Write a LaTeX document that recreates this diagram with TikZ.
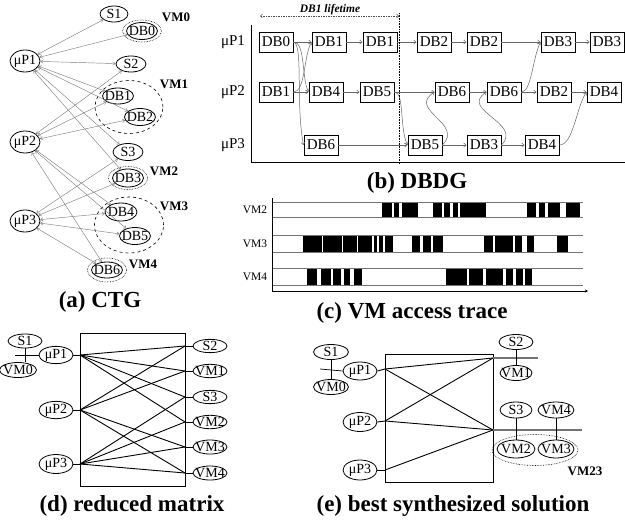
\documentclass[tikz,border=0pt]{standalone}
\usepackage{fontspec}
\setmainfont{Liberation Serif}
\usetikzlibrary{shapes.geometric,arrows.meta}
% zero-width text so the ellipse keeps its given size
\newcommand\zw[1]{\makebox[0pt]{#1}}
\begin{document}
\begin{tikzpicture}[x=1pt,y=-1pt,
  ov/.style={ellipse,draw,line width=0.8pt,inner sep=0pt,minimum width=31pt,minimum height=17pt,font=\fontsize{14}{14}\selectfont},
  ring/.style={ellipse,draw,densely dotted,line width=0.6pt,inner sep=0pt},
  vmlab/.style={font=\fontsize{13}{13}\selectfont\bfseries,inner sep=0pt},
  cedge/.style={draw=black!50,line width=0.45pt,{Straight Barb[length=2.5pt,width=3.5pt]}-{Straight Barb[length=2.5pt,width=3.5pt]}},
  dbbox/.style={rectangle,draw,line width=0.9pt,minimum width=34pt,minimum height=20pt,inner sep=1pt,font=\fontsize{15}{15}\selectfont},
  dep/.style={draw=black!60,line width=0.5pt,-{Straight Barb[length=2.5pt,width=4pt]}},
  rowlab/.style={font=\fontsize{15}{15}\selectfont,inner sep=0pt},
  tracelab/.style={font=\fontsize{11.5}{11.5}\selectfont,inner sep=0pt},
  captext/.style={font=\fontsize{23}{23}\selectfont\bfseries,inner sep=0pt},
  mline/.style={line width=0.9pt},
  bus/.style={draw=black!55,line width=1.4pt},
]
\useasboundingbox (0,0) rectangle (625,520);

% ---------------- (a) CTG ----------------
\node[ov,minimum width=30pt,minimum height=22pt] (p1) at (25,61) {\zw{μP1}};
\node[ov,minimum width=30pt,minimum height=22pt] (p2) at (25,142) {\zw{μP2}};
\node[ov,minimum width=30pt,minimum height=22pt] (p3) at (25,221) {\zw{μP3}};

\node[ov,minimum width=28pt,minimum height=16pt] (s1) at (114,14) {\zw{S1}};
\node[ov,minimum width=31pt,minimum height=17pt] (db0) at (142,31) {\zw{DB0}};
\node[ring,minimum width=39pt,minimum height=22pt] (r0) at (142,31) {};
\node[vmlab] (l0) at (176,17) {VM0};

\node[ov,minimum width=30pt,minimum height=16pt] (s2) at (131,64) {\zw{S2}};
\node[ov,minimum width=31pt,minimum height=16pt] (db1) at (118,96) {\zw{DB1}};
\node[ov,minimum width=31pt,minimum height=17pt] (db2) at (140,117) {\zw{DB2}};
\node[ring,dashed,minimum width=68pt,minimum height=53pt] (r1) at (129,107) {};
\node[vmlab] (l1) at (174,84) {VM1};

\node[ov,minimum width=30pt,minimum height=17pt] (s3) at (128,152) {\zw{S3}};
\node[ov,minimum width=31pt,minimum height=18pt] (db3) at (128,178) {\zw{DB3}};
\node[ring,minimum width=39pt,minimum height=23pt] (r2) at (128,178) {};
\node[vmlab] (l2) at (164,171) {VM2};

\node[ov,minimum width=32pt,minimum height=18pt] (db4) at (121,212) {\zw{DB4}};
\node[ov,minimum width=31pt,minimum height=17pt] (db5) at (135,236) {\zw{DB5}};
\node[ring,dashed,minimum width=69pt,minimum height=56pt] (r3) at (129,225) {};
\node[vmlab] (l3) at (174,206) {VM3};

\node[ov,minimum width=31pt,minimum height=16pt] (db6) at (107,270) {\zw{DB6}};
\node[ring,minimum width=39pt,minimum height=24pt] (r4) at (107,270) {};
\node[vmlab] (l4) at (143,264) {VM4};

\foreach \s/\t in {p1/s1,p1/db0,p1/s2,p1/db1,p1/db2,p1/s3,p1/db3,
                   p2/s2,p2/db1,p2/db2,p2/db4,p2/db5,p2/db6,
                   p3/s3,p3/db3,p3/db4,p3/db5,p3/db6}
  \draw[cedge] (\s) -- (\t);

\node[captext] (capa) at (100,302) {(a) CTG};

% ---------------- (b) DBDG ----------------
\node[rowlab] (m1) at (233,42) {μP1};
\node[rowlab] (m2) at (233,92) {μP2};
\node[rowlab] (m3) at (233,145) {μP3};

\coordinate (ax0) at (251,25);
\coordinate (ax1) at (251,162);
\coordinate (ax2) at (625,162);
\draw[line width=0.8pt] (ax0) -- (ax1) -- (ax2);

\node[dbbox] (a0) at (276,42) {DB0};
\node[dbbox] (a1) at (329,42) {DB1};
\node[dbbox] (a2) at (380,42) {DB1};
\node[dbbox] (a3) at (434,42) {DB2};
\node[dbbox] (a4) at (484,42) {DB2};
\node[dbbox] (a5) at (558,42) {DB3};
\node[dbbox] (a6) at (607,42) {DB3};

\node[dbbox] (b0) at (276,92) {DB1};
\node[dbbox] (b1) at (326,92) {DB4};
\node[dbbox] (b2) at (377,92) {DB5};
\node[dbbox] (b3) at (452,92) {DB6};
\node[dbbox] (b4) at (504,92) {DB6};
\node[dbbox] (b5) at (554,92) {DB2};
\node[dbbox] (b6) at (604,92) {DB4};

\node[dbbox] (c0) at (321,145) {DB6};
\node[dbbox] (c1) at (425,145) {DB5};
\node[dbbox] (c2) at (484,145) {DB3};
\node[dbbox] (c3) at (542,145) {DB4};

\foreach \s/\t in {a0/a1,a1/a2,a2/a3,a3/a4,a4/a5,a5/a6,
                   b0/b1,b1/b2,b2/b3,b3/b4,b4/b5,b5/b6,
                   c0/c1,c1/c2,c2/c3}
  \draw[dep] (\s) -- (\t);

\draw[dep] (a0.east) .. controls +(12,0) and +(-7,-14) .. (b1.west);
\draw[dep] (a0.east) .. controls +(10,2) and +(-8,-40) .. (c0.west);
\draw[dep] (b0.east) .. controls +(12,0) and +(-8,14) .. (a1.west);
\draw[dep] (b2.east) .. controls +(10,0) and +(-8,-16) .. (c1.west);
\draw[dep] (c1.east) .. controls +(22,-22) and +(-28,18) .. (b3.west);
\draw[dep] (c2.east) .. controls +(22,-22) and +(-28,18) .. (b4.west);
\draw[dep] (b4.east) .. controls +(10,0) and +(-8,16) .. (a5.west);
\draw[dep] (c3.east) .. controls +(14,0) and +(-10,14) .. (b6.west);

% lifetime of DB1
\coordinate (lt0) at (260,16);
\coordinate (lt1) at (399,16);
\draw[black!70,line width=0.5pt,dash pattern=on 1.5pt off 1pt,
      {Straight Barb[length=2pt,width=3.5pt]}-{Straight Barb[length=2pt,width=3.5pt]}] (lt0) -- (lt1);
\node[font=\fontsize{11.5}{11.5}\selectfont\bfseries\itshape,inner sep=0pt] (ltl) at (330,10) {DB1 lifetime};
\coordinate (dl0) at (399,13);
\coordinate (dl1) at (399,164);
\draw[line width=0.6pt,densely dotted] (dl0) -- (dl1);

\node[captext] (capb) at (417,183) {(b) DBDG};

% ---------------- (c) VM access trace ----------------
\coordinate (tx0) at (272,198);
\coordinate (tx1) at (272,291);
\coordinate (tx2) at (588,291);
\draw[line width=0.6pt,-{Stealth[length=3pt,width=3pt]}] (tx0) -- (tx1) -- (tx2);

\foreach \y in {202,217,235,252,268,285}
  \draw[black!55,line width=0.9pt] (273,\y) -- (583,\y);

\node[tracelab] (t2) at (255,209.5) {VM2};
\node[tracelab] (t3) at (255,243.5) {VM3};
\node[tracelab] (t4) at (255,276.5) {VM4};

\foreach \a/\b in {381.7/391.7,394/399.3,401.7/418.3,433.3/441.7,444/450,452.7/458.3,
                   460/486,527.3/536,539.3/545,548.3/560,566/580}
  \fill (\a,202.5) rectangle (\b,216.5);
\foreach \a/\b in {302.7/321.7,323.3/341.7,343.3/356.7,358.3/371.7,374/377.3,379.3/382.7,
                   385/392.7,411.7/420,422.7/430.7,433.3/443.3,484/493.3,495/512.7,
                   515/521.7,526.7/534,556.7/568.3}
  \fill (\a,235.5) rectangle (\b,251.5);
\foreach \a/\b in {306.7/317.3,320.7/330.7,333.3/340.7,344/350,354/361.7,446/466.7,
                   469.3/483.3,486/503.3,506/512.7,516/522.7,525/531.7}
  \fill (\a,268.5) rectangle (\b,284.5);

\node[captext] (capc) at (412,313) {(c) VM access trace};

% ---------------- (d) reduced matrix ----------------
\node[ov,minimum width=34pt,minimum height=14pt] (ds1) at (25,341) {\zw{S1}};
\node[ov,minimum width=37pt,minimum height=15pt] (dv0) at (18,370) {\zw{VM0}};
\node[ov,minimum width=34pt,minimum height=17pt] (dp1) at (56,355) {\zw{μP1}};
\node[ov,minimum width=34pt,minimum height=17pt] (dp2) at (56,410) {\zw{μP2}};
\node[ov,minimum width=34pt,minimum height=19pt] (dp3) at (56,464) {\zw{μP3}};
\coordinate (dbus) at (15,355);
\draw[line width=0.7pt] (dbus) -- (dp1.west);
\draw[line width=0.7pt] (ds1.south) -- (ds1.south |- dv0.north);

\draw[mline] (80,333) rectangle (185,486);

\node[ov,minimum width=34pt,minimum height=13pt] (dr1) at (210,346) {\zw{S2}};
\node[ov,minimum width=34pt,minimum height=13pt] (dr2) at (210,371) {\zw{VM1}};
\node[ov,minimum width=34pt,minimum height=13pt] (dr3) at (210,397) {\zw{S3}};
\node[ov,minimum width=34pt,minimum height=13pt] (dr4) at (210,422) {\zw{VM2}};
\node[ov,minimum width=34pt,minimum height=14pt] (dr5) at (210,447) {\zw{VM3}};
\node[ov,minimum width=34pt,minimum height=14pt] (dr6) at (210,473) {\zw{VM4}};

\foreach \i/\y in {1/355,2/410,3/464} {
  \coordinate (dl\i) at (80,\y);
  \draw[mline] (dp\i.east) -- (dl\i);
}
\foreach \i/\y in {1/346,2/371,3/397,4/422,5/447,6/473} {
  \coordinate (dq\i) at (185,\y);
  \draw[mline] (dq\i) -- (dr\i.west);
}
\foreach \s/\t in {1/1,1/2,1/3,1/4,2/1,2/2,2/5,2/6,3/3,3/4,3/5,3/6}
  \draw[mline] (dl\s) -- (dq\t);

\node[captext] (capd) at (132,506) {(d) reduced matrix};

% ---------------- (e) best synthesized solution ----------------
\node[ov,minimum width=35pt,minimum height=15pt] (es1) at (331,352) {\zw{S1}};
\node[ov,minimum width=35pt,minimum height=15pt] (ev0) at (331,387) {\zw{VM0}};
\node[ov,minimum width=34pt,minimum height=18pt] (ep1) at (360,371) {\zw{μP1}};
\node[ov,minimum width=34pt,minimum height=19pt] (ep2) at (360,422) {\zw{μP2}};
\node[ov,minimum width=34pt,minimum height=20pt] (ep3) at (360,470) {\zw{μP3}};
\coordinate (ebus) at (320,369);
\draw[line width=0.7pt] (ebus) -- (ep1.west);
\draw[line width=0.7pt] (es1.south) -- (ev0.north);

\draw[mline] (385,354) rectangle (493,482);

\foreach \i/\y in {1/369,2/421,3/470} {
  \coordinate (el\i) at (385,\y);
  \draw[mline] (ep\i.east) -- (el\i);
}
\coordinate (eq1) at (493,358);
\coordinate (eq2) at (493,430);
\foreach \s/\t in {1/1,1/2,2/1,2/2,3/2}
  \draw[mline] (el\s) -- (eq\t);

% upper bus: S2 and VM1
\coordinate (eb1) at (538,358);
\draw[bus] (eq1) -- (eb1);
\node[ov,minimum width=34pt,minimum height=15pt] (es2) at (516,342) {\zw{S2}};
\node[ov,minimum width=32pt,minimum height=15pt] (ev1) at (516,373) {\zw{VM1}};
\draw[line width=0.7pt] (es2.south) -- (ev1.north);

% lower bus: S3, VM4 and the merged VM2/VM3
\coordinate (eb2) at (582,430);
\draw[bus] (eq2) -- (eb2);
\node[ov,minimum width=32pt,minimum height=16pt] (es3) at (516,410) {\zw{S3}};
\node[ov,minimum width=36pt,minimum height=16pt] (ev4) at (556,410) {\zw{VM4}};
\node[ov,minimum width=38pt,minimum height=18pt] (ev2) at (516,449) {\zw{VM2}};
\node[ov,minimum width=36pt,minimum height=18pt] (ev3) at (556,449) {\zw{VM3}};
\draw[line width=0.7pt] (es3.south) -- (ev2.north);
\draw[line width=0.7pt] (ev4.south) -- (ev3.north);
\node[ring,minimum width=86pt,minimum height=31pt] (evm) at (535,450) {};
\node[vmlab] (l23) at (585,471) {VM23};

\node[captext] (cape) at (453,506) {(e) best synthesized solution};

\end{tikzpicture}
\end{document}
